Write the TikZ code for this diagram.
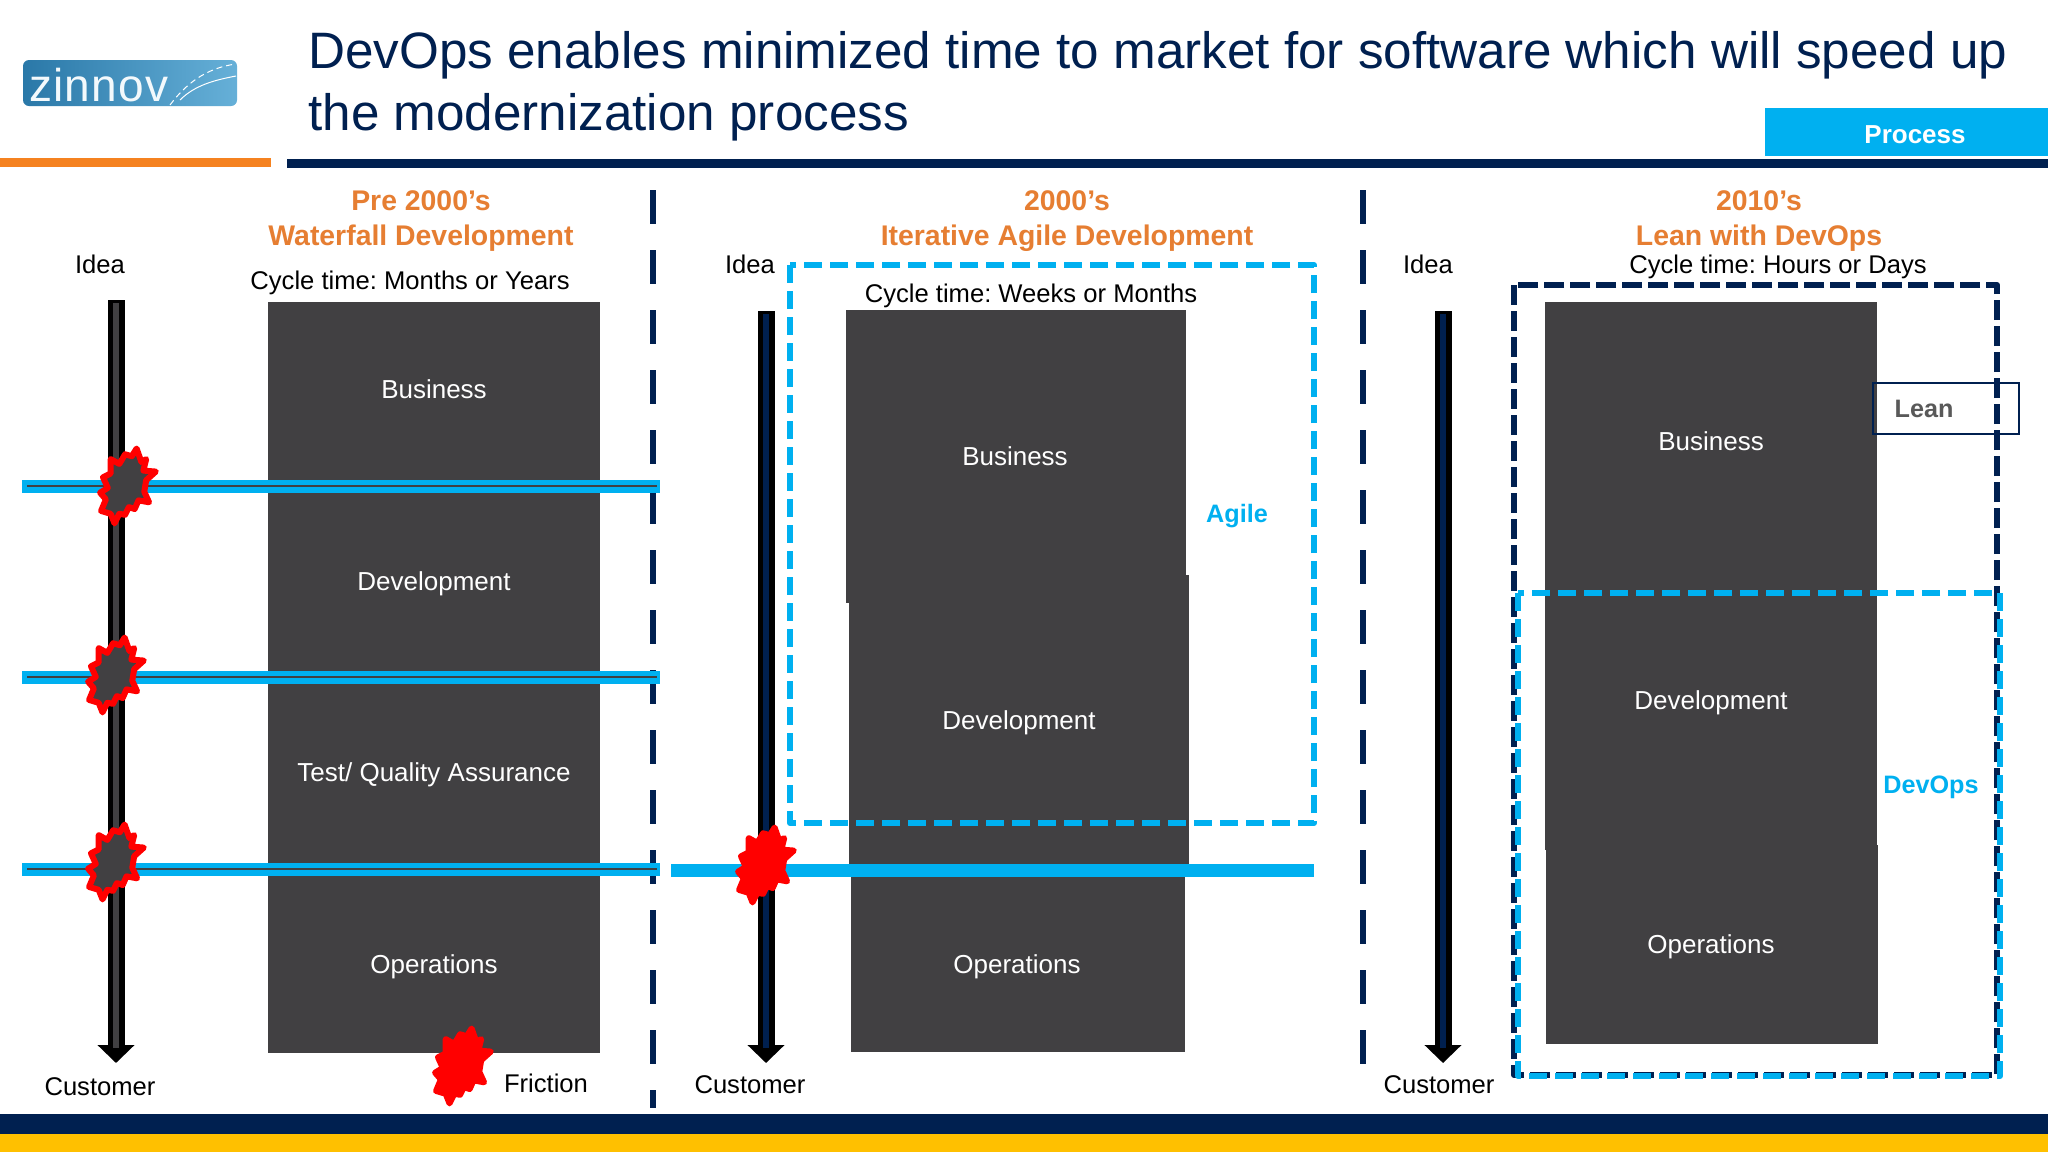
\documentclass[tikz,border=0pt]{standalone}
\usepackage{fontspec}
\setmainfont{Liberation Sans}
\usetikzlibrary{arrows.meta,positioning}
\definecolor{navy}{HTML}{002050}
\definecolor{sky}{HTML}{00B0F0}
\definecolor{slab}{HTML}{414042}
\definecolor{orangehead}{HTML}{E67E32}
\definecolor{orangebar}{HTML}{F58220}
\definecolor{gold}{HTML}{FFC000}
\definecolor{burstred}{HTML}{FF0000}
\definecolor{logoleft}{HTML}{2A78A8}
\definecolor{logoright}{HTML}{66B0D8}
\tikzset{
 every node/.append style={text depth=0pt,inner sep=0pt},
 slabbox/.style={fill=slab,draw=none},
 slabtext/.style={text=white,font=\fontsize{13}{15}\selectfont},
 plain/.style={text=black,font=\fontsize{12.8}{15}\selectfont},
 head/.style={text=orangehead,font=\bfseries\fontsize{14.2}{16}\selectfont},
 accent/.style={text=sky,font=\bfseries\fontsize{12.6}{15}\selectfont},
 titletext/.style={anchor=west,text=navy,font=\fontsize{25.6}{30}\selectfont},
 divider/.style={draw=navy,line width=3pt,dash pattern=on 17pt off 13pt},
 skydash/.style={draw=sky,line width=3pt,dash pattern=on 9pt off 4pt,line join=round},
 navydash/.style={draw=navy,line width=3pt,dash pattern=on 10pt off 3pt,line join=round},
 frictionbar/.style={draw=sky,line width=6.5pt},
 frictioncore/.style={draw=slab,line width=1pt},
 flowshaft/.style={draw=black,line width=8.5pt,-{Triangle[length=9pt,width=18pt,fill=black]}},
}
\newcommand{\friction}[4]{% x y fill rotate
 \draw[burstred,line width=3pt,line join=round,fill=#3,shift={(#1,#2)},rotate=#4,scale=0.96]
 (10,-38) -- (15,-24) -- (20,-27) -- (17,-15) -- (30,-14) -- (20,-5) -- (18,7) -- (23,18) -- (12,16) -- (8,25) -- (2,23) -- (-2,31) -- (-8,30) -- (-13,40) -- (-17,30) -- (-27,27) -- (-22,15) -- (-28,8) -- (-20,3) -- (-25,-8) -- (-17,-12) -- (-17,-27) -- (-8,-22) -- (-2,-32) -- (5,-30) -- cycle;
}
\newcommand{\flow}[4]{% name x innercolour top
 \coordinate (#1a) at (#2,#4);
 \coordinate (#1b) at (#2,1063);
 \coordinate (#1c) at (#2,1048);
 \coordinate (#1d) at (#2,#4+3);
 \draw[flowshaft] (#1a) -- (#1b);
 \draw[#3,line width=3pt] (#1d) -- (#1c);
}
\begin{document}
\frenchspacing
\begin{tikzpicture}[x=0.5pt,y=-0.5pt]
\useasboundingbox (0,0) rectangle (2048,1152);
\fill[white] (0,0) rectangle (2048,1152);
% header
\node[titletext] (titleA) at (308,50) {DevOps enables minimized time to market for software which will speed up};
\node[titletext] (titleB) at (308,112) {the modernization process};
\fill[orangebar] (0,158) rectangle (271,167);
\fill[navy] (287,159) rectangle (2048,168);
\fill[sky] (1765,108) rectangle (2048,156);
\node[text=white,font=\bfseries\fontsize{13}{15}\selectfont] (process) at (1915,135) {Process};
% logo
\shade[left color=logoleft,right color=logoright,rounded corners=3pt,draw=none] (23,60) rectangle (237,106);
\node[text=white!92!logoright,font=\fontsize{23}{24}\selectfont\addfontfeatures{LetterSpace=3}] (zinnov) at (99,85) {zinnov};
\draw[white,line width=0.5pt,densely dashed] (170,105) .. controls (185,85) and (205,68) .. (236,64);
\draw[white,line width=0.5pt] (180,100) .. controls (195,85) and (215,80) .. (236,76);
% bottom bands
\fill[navy] (0,1114) rectangle (2048,1134);
\fill[gold] (0,1134) rectangle (2048,1152);
% dividers
\coordinate (d1a) at (653,190); \coordinate (d1b) at (653,1108);
\coordinate (d2a) at (1363,190); \coordinate (d2b) at (1363,1075);
\draw[divider] (d1a) -- (d1b);
\draw[divider] (d2a) -- (d2b);
% column 1
\fill[slabbox] (268,302) rectangle (600,1053);
\node[slabtext] (a1) at (434,389) {Business};
\node[slabtext] (a2) at (434,581) {Development};
\node[slabtext] (a3) at (434,772) {Test/ Quality Assurance};
\node[slabtext] (a4) at (434,964) {Operations};
\node[head] (h1a) at (421,201) {Pre 2000’s};
\node[head] (h1b) at (421,235) {Waterfall Development};
\node[plain] (c1) at (410,280) {Cycle time: Months or Years};
\node[plain] (i1) at (100,264) {Idea};
\node[plain] (u1) at (100,1087) {Customer};
\node[plain] (fr) at (546,1083) {Friction};
\flow{fa}{116}{slab}{300}
\foreach \n/\y in {p/486,q/677,r/869}{
 \coordinate (\n a) at (22,\y); \coordinate (\n b) at (660,\y);
 \coordinate (\n c) at (27,\y); \coordinate (\n d) at (657,\y);
 \draw[frictionbar] (\n a) -- (\n b);
 \draw[frictioncore] (\n c) -- (\n d);
}
\friction{127}{485}{slab}{0}
\friction{115}{674}{slab}{0}
\friction{115}{861}{slab}{0}
\friction{462}{1065}{burstred}{0}
% column 2
\fill[slabbox] (846,310) rectangle (1186,603);
\fill[slabbox] (849,575) rectangle (1189,869);
\fill[slabbox] (851,869) rectangle (1185,1052);
\node[slabtext] (b1) at (1015,456) {Business};
\node[slabtext] (b2) at (1019,720) {Development};
\node[slabtext] (b3) at (1017,964) {Operations};
\node[head] (h2a) at (1067,201) {2000’s};
\node[head] (h2b) at (1067,235) {Iterative Agile Development};
\node[plain] (c2) at (1031,293) {Cycle time: Weeks or Months};
\node[plain] (i2) at (750,264) {Idea};
\node[plain] (u2) at (750,1085) {Customer};
\node[accent] (agile) at (1237,513) {Agile};
\flow{fb}{766}{navy}{311}
\draw[skydash] (790,265) rectangle (1314,823);
\coordinate (sa) at (671,870); \coordinate (sb) at (1314,870);
\draw[draw=sky,line width=6.5pt] (sa) -- (sb);
\friction{765}{864}{burstred}{0}
% column 3
\fill[slabbox] (1545,302) rectangle (1877,850);
\fill[slabbox] (1546,845) rectangle (1878,1044);
\node[slabtext] (e1) at (1711,441) {Business};
\node[slabtext] (e2) at (1711,700) {Development};
\node[slabtext] (e3) at (1711,944) {Operations};
\node[head] (h3a) at (1759,201) {2010’s};
\node[head] (h3b) at (1759,235) {Lean with DevOps};
\node[plain] (c3) at (1778,264) {Cycle time: Hours or Days};
\node[plain] (i3) at (1428,264) {Idea};
\node[plain] (u3) at (1439,1085) {Customer};
\flow{fc}{1443}{navy}{311}
\draw[draw=navy,line width=1pt] (1873,383) rectangle (2019,434);
\node[text=black!65,font=\bfseries\fontsize{12.6}{15}\selectfont] (lean) at (1924,409) {Lean};
\draw[navydash] (1514,285) rectangle (1997,1075);
\draw[skydash] (1518,593) rectangle (2000,1076);
\node[accent] (devops) at (1931,785) {DevOps};
\end{tikzpicture}
\end{document}
